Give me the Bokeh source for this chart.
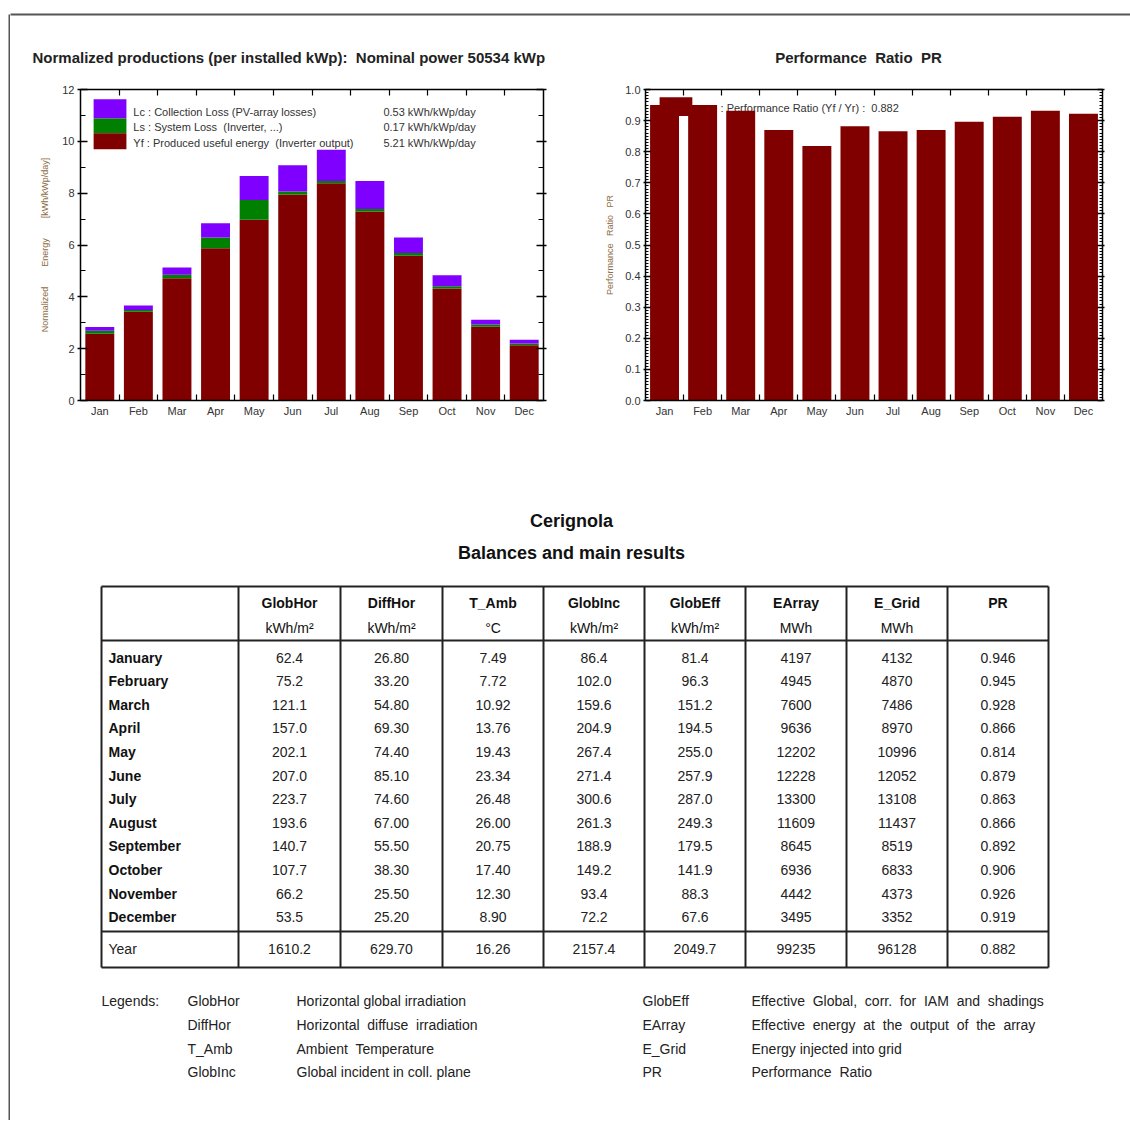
from bokeh.plotting import figure
from bokeh.layouts import row, column
from bokeh.models import Range1d, FixedTicker, LinearAxis, ColumnDataSource, Spacer
from bokeh.core.properties import value
from bokeh.embed import file_html
from bokeh.resources import INLINE

FONT = "Liberation Sans"
NB = "\u00a0"
W2 = NB + " "

# ---------------- data ----------------
months = ["Jan", "Feb", "Mar", "Apr", "May", "Jun", "Jul", "Aug", "Sep", "Oct", "Nov", "Dec"]
yf = [2.58, 3.42, 4.72, 5.87, 6.97, 7.95, 8.38, 7.29, 5.59, 4.32, 2.85, 2.13]   # produced useful energy
ls = [0.11, 0.07, 0.13, 0.42, 0.77, 0.11, 0.09, 0.10, 0.10, 0.09, 0.08, 0.07]   # system loss
lc = [0.15, 0.18, 0.28, 0.55, 0.92, 1.02, 1.21, 1.08, 0.60, 0.42, 0.19, 0.14]   # collection loss
pr = [0.950, 0.950, 0.932, 0.870, 0.818, 0.882, 0.866, 0.870, 0.896, 0.912, 0.932, 0.922]

loss_labels = ["Lc : Collection Loss (PV-array losses)",
               "Ls : System Loss" + NB + " (Inverter, ...)",
               "Yf : Produced useful energy" + NB + " (Inverter output)"]
loss_values = ["0.53 kWh/kWp/day", "0.17 kWh/kWp/day", "5.21 kWh/kWp/day"]
pr_label = ": Performance Ratio (Yf / Yr) :" + NB + " 0.882"

left_title = "Normalized productions (per installed kWp):" + NB + " Nominal power 50534 kWp"
right_title = "Performance" + NB + " Ratio" + NB + " PR"

table_months = ["January", "February", "March", "April", "May", "June", "July",
                "August", "September", "October", "November", "December"]
col_names = ["GlobHor", "DiffHor", "T_Amb", "GlobInc", "GlobEff", "EArray", "E_Grid", "PR"]
col_units = ["kWh/m²", "kWh/m²", "°C", "kWh/m²", "kWh/m²", "MWh", "MWh", ""]
glob_hor = [62.4, 75.2, 121.1, 157.0, 202.1, 207.0, 223.7, 193.6, 140.7, 107.7, 66.2, 53.5]
diff_hor = [26.80, 33.20, 54.80, 69.30, 74.40, 85.10, 74.60, 67.00, 55.50, 38.30, 25.50, 25.20]
t_amb = [7.49, 7.72, 10.92, 13.76, 19.43, 23.34, 26.48, 26.00, 20.75, 17.40, 12.30, 8.90]
glob_inc = [86.4, 102.0, 159.6, 204.9, 267.4, 271.4, 300.6, 261.3, 188.9, 149.2, 93.4, 72.2]
glob_eff = [81.4, 96.3, 151.2, 194.5, 255.0, 257.9, 287.0, 249.3, 179.5, 141.9, 88.3, 67.6]
e_array = [4197, 4945, 7600, 9636, 12202, 12228, 13300, 11609, 8645, 6936, 4442, 3495]
e_grid = [4132, 4870, 7486, 8970, 10996, 12052, 13108, 11437, 8519, 6833, 4373, 3352]
pr_table = [0.946, 0.945, 0.928, 0.866, 0.814, 0.879, 0.863, 0.866, 0.892, 0.906, 0.926, 0.919]
year_values = [1610.2, 629.70, 16.26, 2157.4, 2049.7, 99235, 96128, 0.882]
col_formats = ["{:.1f}", "{:.2f}", "{:.2f}", "{:.1f}", "{:.1f}", "{:.0f}", "{:.0f}", "{:.3f}"]

legend_left = [("GlobHor", "Horizontal global irradiation"),
               ("DiffHor", "Horizontal" + NB + " diffuse" + NB + " irradiation"),
               ("T_Amb", "Ambient" + NB + " Temperature"),
               ("GlobInc", "Global incident in coll. plane")]
legend_right = [("GlobEff", W2.join(["Effective", "Global,", "corr.", "for", "IAM", "and", "shadings"])),
                ("EArray", W2.join(["Effective", "energy", "at", "the", "output", "of", "the", "array"])),
                ("E_Grid", "Energy injected into grid"),
                ("PR", "Performance" + NB + " Ratio")]

C_YF = "#800000"
C_LS = "#008000"
C_LC = "#8000ff"
C_AXLAB = "#8c6d46"
C_TXT = "#222222"


def canvas_fig(w, h, x0, y0):
    p = figure(width=w, height=h, x_range=Range1d(x0, x0 + w), y_range=Range1d(y0 + h, y0),
               x_axis_type=None, y_axis_type=None, output_backend="svg",
               toolbar_location=None, min_border=0)
    p.grid.visible = False
    p.outline_line_color = None
    p.background_fill_color = "white"
    p.border_fill_color = "white"
    return p


def txt(p, x, y, t, size="14px", bold=False, align="left", color=C_TXT):
    p.text(x=[x], y=[y], text=[t], text_font=value(FONT), text_font_size=size,
           text_font_style="bold" if bold else "normal", text_align=align,
           text_baseline="middle", text_color=color)


def style_axis(ax, labels=True):
    ax.axis_line_color = "black"
    ax.axis_line_width = 1.5
    ax.major_tick_line_color = "black"
    ax.minor_tick_line_color = "black"
    ax.major_tick_line_width = 1.5
    ax.minor_tick_line_width = 1.2
    ax.major_label_text_font = FONT
    ax.major_label_text_font_size = "11px"
    ax.major_label_text_color = "#333333"
    if not labels:
        ax.major_label_text_font_size = "0px"
        ax.major_label_text_alpha = 0


# ---------------- left strip / header ----------------
vstrip = figure(width=2, height=1112, x_axis_type=None, y_axis_type=None, output_backend="svg",
                toolbar_location=None, min_border=0, min_border_top=6)
vstrip.grid.visible = False
vstrip.outline_line_color = None
vstrip.background_fill_color = "#555555"
vstrip.border_fill_color = "white"

header = canvas_fig(1120, 66, 10, 8)
header.segment(x0=[8], y0=[14], x1=[1130], y1=[14], line_color="#555555", line_width=2)
txt(header, 32, 57, left_title, size="15px", bold=True)
txt(header, 858, 57, right_title, size="15px", bold=True, align="center")

# ---------------- left chart ----------------
xs = list(range(1, 13))
p1 = figure(width=560, height=366, x_range=Range1d(0.5, 12.5), y_range=Range1d(0, 12),
            x_axis_type=None, y_axis_type=None, output_backend="svg", toolbar_location=None,
            min_border_left=70, min_border_right=27, min_border_top=14, min_border_bottom=40)
p1.grid.visible = False
p1.outline_line_color = "black"

src1 = ColumnDataSource(dict(x=xs, yf=yf, ls=ls, lc=lc))
p1.vbar_stack(["yf", "ls", "lc"], x="x", width=0.75, color=[C_YF, C_LS, C_LC],
              line_color=None, source=src1)

# legend
p1.quad(left=[0.84, 0.84, 0.84], right=[1.69, 1.69, 1.69],
        bottom=[10.88, 10.31, 9.69], top=[11.62, 10.88, 10.31],
        color=[C_LC, C_LS, C_YF], line_color=None)
for i, (lab, val) in enumerate(zip(loss_labels, loss_values)):
    yy = [11.15, 10.54, 9.92][i]
    p1.text(x=[1.87], y=[yy], text=[lab], text_font=value(FONT), text_font_size="11px",
            text_baseline="middle", text_color="#333333")
    p1.text(x=[8.35], y=[yy], text=[val], text_font=value(FONT), text_font_size="11px",
            text_baseline="middle", text_color="#333333")

bound = [i + 0.5 for i in range(1, 12)]
ax_b = LinearAxis(ticker=FixedTicker(ticks=xs, minor_ticks=bound),
                  major_label_overrides={i + 1: m for i, m in enumerate(months)})
style_axis(ax_b)
ax_b.major_tick_in = 0
ax_b.major_tick_out = 0
ax_b.minor_tick_in = 6
ax_b.minor_tick_out = 0
ax_b.major_label_standoff = 4
p1.add_layout(ax_b, "below")

ax_t = LinearAxis(ticker=FixedTicker(ticks=[], minor_ticks=bound))
style_axis(ax_t, labels=False)
ax_t.minor_tick_in = 6
ax_t.minor_tick_out = 0
p1.add_layout(ax_t, "above")

yt = [0, 2, 4, 6, 8, 10, 12]
ym = [1, 3, 5, 7, 9, 11]
ax_l = LinearAxis(ticker=FixedTicker(ticks=yt, minor_ticks=ym),
                  axis_label=("Normalized" + NB * 8 + "Energy" + NB * 8 + "[kWh/kWp/day]"))
style_axis(ax_l)
ax_l.major_tick_in = 7
ax_l.major_tick_out = 3
ax_l.minor_tick_in = 5
ax_l.minor_tick_out = 0
ax_l.major_label_standoff = 3
ax_l.axis_label_text_font = FONT
ax_l.axis_label_text_font_size = "9px"
ax_l.axis_label_text_font_style = "normal"
ax_l.axis_label_text_color = C_AXLAB
ax_l.axis_label_standoff = 9
p1.add_layout(ax_l, "left")

ax_r = LinearAxis(ticker=FixedTicker(ticks=yt, minor_ticks=ym))
style_axis(ax_r, labels=False)
ax_r.major_tick_in = 7
ax_r.major_tick_out = 3
ax_r.minor_tick_in = 5
ax_r.minor_tick_out = 0
p1.add_layout(ax_r, "right")

# ---------------- right chart ----------------
p2 = figure(width=560, height=366, x_range=Range1d(0.5, 12.5), y_range=Range1d(0, 1.0),
            x_axis_type=None, y_axis_type=None, output_backend="svg", toolbar_location=None,
            min_border_left=75, min_border_right=28, min_border_top=15, min_border_bottom=40)
p2.grid.visible = False
p2.outline_line_color = "black"

p2.text(x=[2.47], y=[0.94], text=[pr_label], text_font=value(FONT), text_font_size="11px",
        text_baseline="middle", text_color="#333333")
p2.quad(left=[0.87], right=[1.73], bottom=[0.915], top=[0.975], color=C_YF, line_color=None)
src2 = ColumnDataSource(dict(x=xs, pr=pr))
p2.vbar(x="x", top="pr", width=0.76, color=C_YF, line_color=None, source=src2)

ax2_b = LinearAxis(ticker=FixedTicker(ticks=xs, minor_ticks=bound),
                   major_label_overrides={i + 1: m for i, m in enumerate(months)})
style_axis(ax2_b)
ax2_b.major_tick_in = 0
ax2_b.major_tick_out = 0
ax2_b.minor_tick_in = 6
ax2_b.minor_tick_out = 0
ax2_b.major_label_standoff = 4
p2.add_layout(ax2_b, "below")

ax2_t = LinearAxis(ticker=FixedTicker(ticks=[], minor_ticks=bound))
style_axis(ax2_t, labels=False)
ax2_t.minor_tick_in = 6
ax2_t.minor_tick_out = 0
p2.add_layout(ax2_t, "above")

pt = [round(0.1 * i, 1) for i in range(11)]
pm = [round(0.01 * i, 2) for i in range(101)]
ax2_l = LinearAxis(ticker=FixedTicker(ticks=pt, minor_ticks=pm),
                   major_label_overrides={v: "%.1f" % v for v in pt},
                   axis_label=("Performance" + NB * 3 + "Ratio" + NB * 3 + "PR"))
style_axis(ax2_l)
ax2_l.major_tick_in = 5
ax2_l.major_tick_out = 2
ax2_l.minor_tick_in = 3
ax2_l.minor_tick_out = 0
ax2_l.minor_tick_line_width = 1
ax2_l.major_label_standoff = 3
ax2_l.axis_label_text_font = FONT
ax2_l.axis_label_text_font_size = "9px"
ax2_l.axis_label_text_font_style = "normal"
ax2_l.axis_label_text_color = C_AXLAB
ax2_l.axis_label_standoff = 7
p2.add_layout(ax2_l, "left")

ax2_r = LinearAxis(ticker=FixedTicker(ticks=pt, minor_ticks=pm))
style_axis(ax2_r, labels=False)
ax2_r.major_tick_in = 5
ax2_r.major_tick_out = 2
ax2_r.minor_tick_in = 3
ax2_r.minor_tick_out = 0
ax2_r.minor_tick_line_width = 1
p2.add_layout(ax2_r, "right")

# ---------------- table ----------------
tb = canvas_fig(1120, 680, 10, 440)
txt(tb, 571, 520, "Cerignola", size="18px", bold=True, align="center", color="#111111")
txt(tb, 571, 552, "Balances and main results", size="18px", bold=True, align="center", color="#111111")

edges = [101, 238, 340, 442, 543, 644, 745, 846, 947, 1048]
t_top, t_head, t_sum, t_bot = 586, 640, 931, 967
tb.segment(x0=edges, y0=[t_top] * len(edges), x1=edges, y1=[t_bot] * len(edges),
           line_color="#222222", line_width=2)
hy = [t_top, t_head, t_sum, t_bot]
tb.segment(x0=[edges[0]] * 4, y0=hy, x1=[edges[-1]] * 4, y1=hy, line_color="#222222", line_width=2)

centers = [(edges[i] + edges[i + 1]) / 2 for i in range(1, 9)]
for cx, nm, un in zip(centers, col_names, col_units):
    txt(tb, cx, 602, nm, size="14px", bold=True, align="center", color="#111111")
    if un:
        txt(tb, cx, 627, un, size="14px", align="center", color="#111111")

columns = [glob_hor, diff_hor, t_amb, glob_inc, glob_eff, e_array, e_grid, pr_table]
row_y = [657 + 23.6 * i for i in range(12)]
for r, (mname, yy) in enumerate(zip(table_months, row_y)):
    txt(tb, 108, yy, mname, size="14px", bold=True, color="#111111")
    for cx, col, fmt in zip(centers, columns, col_formats):
        txt(tb, cx, yy, fmt.format(col[r]), size="14px", align="center", color="#222222")

txt(tb, 108, 948, "Year", size="14px", color="#222222")
for cx, v, fmt in zip(centers, year_values, col_formats):
    txt(tb, cx, 948, fmt.format(v), size="14px", align="center", color="#222222")

leg_y = [1000, 1024, 1048, 1071]
txt(tb, 101, leg_y[0], "Legends:", size="14px", color=C_TXT)
for yy, (a, b) in zip(leg_y, legend_left):
    txt(tb, 187, yy, a, size="14px", color=C_TXT)
    txt(tb, 296, yy, b, size="14px", color=C_TXT)
for yy, (a, b) in zip(leg_y, legend_right):
    txt(tb, 642, yy, a, size="14px", color=C_TXT)
    txt(tb, 751, yy, b, size="14px", color=C_TXT)

layout = row(Spacer(width=8, height=8),
             column(Spacer(width=8, height=8),
                    row(vstrip, column(header, row(p1, p2), tb))))
open("out.html", "w").write(file_html(layout, INLINE))
